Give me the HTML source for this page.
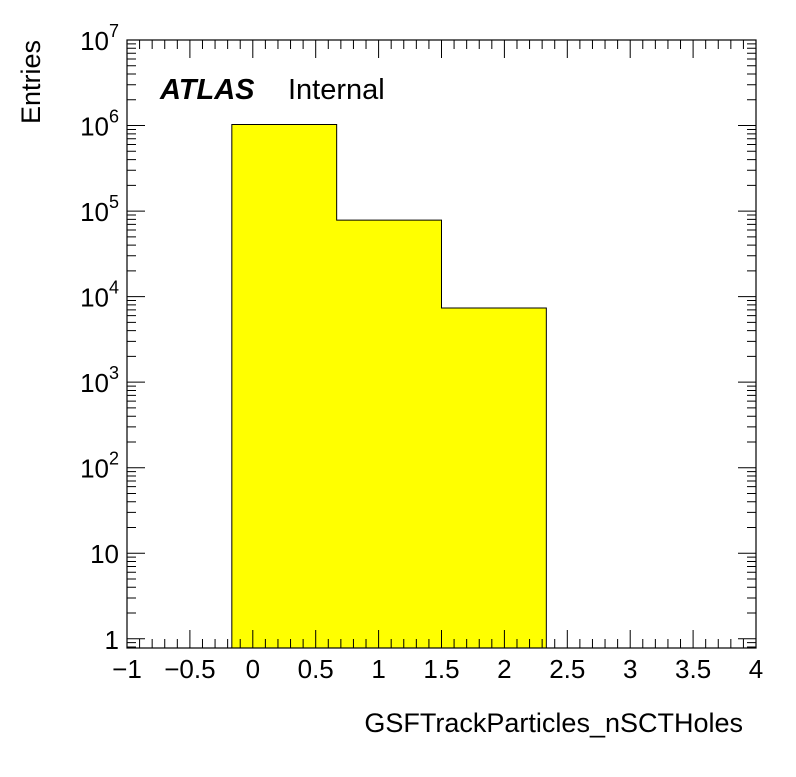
<!DOCTYPE html>
<html><head><meta charset="utf-8"><style>
body{margin:0;background:#fff;}
svg text{font-family:"Liberation Sans",Arial,sans-serif;fill:#000;}
</style></head><body>
<svg id="c" width="796" height="772" xmlns="http://www.w3.org/2000/svg"></svg>
<script>
const binEdges=[-0.1667,0.6667,1.5,2.3333];
const binCounts=[1030000,78500,7350];
const xTickLabels=["\u22121","\u22120.5","0","0.5","1","1.5","2","2.5","3","3.5","4"];
const xTickValues=[-1,-0.5,0,0.5,1,1.5,2,2.5,3,3.5,4];
const yTickExps=[0,1,2,3,4,5,6,7];
const L=127,R=756,T=40,B=648,xmin=-1,xmax=4,ymin=0.78,ymax=1e7;
const NS="http://www.w3.org/2000/svg";
const svg=document.getElementById('c');
function X(v){return L+(v-xmin)/(xmax-xmin)*(R-L);}
function Y(v){return B-(Math.log10(v)-Math.log10(ymin))/(Math.log10(ymax)-Math.log10(ymin))*(B-T);}
function mk(t,a){const e=document.createElementNS(NS,t);for(const k in a)e.setAttribute(k,a[k]);svg.appendChild(e);return e;}
// histogram
let d="M"+X(binEdges[0])+","+B;
for(let i=0;i<binCounts.length;i++){d+=" L"+X(binEdges[i])+","+Y(binCounts[i])+" L"+X(binEdges[i+1])+","+Y(binCounts[i]);}
d+=" L"+X(binEdges[binEdges.length-1])+","+B+" Z";
const h=mk('path',{d:d,fill:'#ffff00',stroke:'#000','stroke-width':1});


// frame
const f=mk('rect',{x:L,y:T,width:R-L,height:B-T,fill:'none',stroke:'#000','stroke-width':1.2});


// x ticks
let tp="";
for(let v=-1;v<=4.001;v+=0.1){const x=X(v);const maj=Math.abs(v*2-Math.round(v*2))<1e-6;const len=maj?18:9;tp+=`M${x},${B}V${B-len}M${x},${T}V${T+len}`;}
// y ticks
for(let e=-1;e<7;e++){for(let m=1;m<10;m++){const v=m*Math.pow(10,e);if(v<ymin||v>ymax)continue;const y=Y(v);const len=m==1?18:9;tp+=`M${L},${y}H${L+len}M${R},${y}H${R-len}`;}}
const tk=mk('path',{d:tp,stroke:'#000','stroke-width':1,fill:'none'});


xTickValues.forEach((v,i)=>{const t=mk('text',{x:X(v),y:678,'font-size':26,'text-anchor':'middle'});t.textContent=xTickLabels[i];

});
yTickExps.forEach(e=>{const y=Y(Math.pow(10,e));const t=mk('text',{x:L-8,y:y+10,'font-size':26,'text-anchor':'end'});
if(e==0)t.textContent="1";else if(e==1)t.textContent="10";else{t.innerHTML=`10<tspan font-size="18" dy="-13">${e}</tspan>`;}

});
const xl=mk('text',{x:743,y:732,'font-size':27,'text-anchor':'end'});xl.textContent="GSFTrackParticles_nSCTHoles";


const yl=mk('text',{x:0,y:0,'font-size':27,'text-anchor':'end',transform:'translate(40,40) rotate(-90)'});yl.textContent="Entries";


const at=mk('text',{x:160,y:99,'font-size':29,'font-weight':'bold','font-style':'italic'});at.textContent="ATLAS";


const it=mk('text',{x:288,y:99,'font-size':29});it.textContent="Internal";


</script>
</body></html>
